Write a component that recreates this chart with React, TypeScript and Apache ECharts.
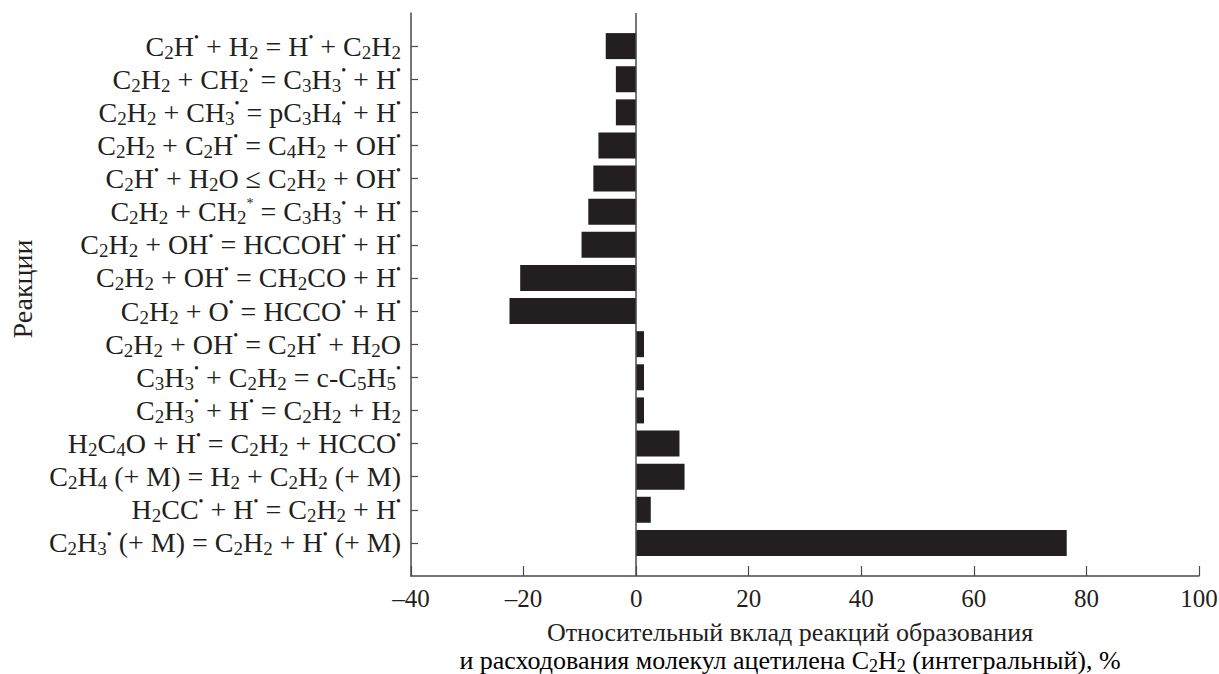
import React, { useEffect, useRef } from "react";
import * as echarts from "echarts";

// Reactions, top to bottom. Markup: _x = subscript char, ^x = superscript char
const reactions: string[] = [
  "C_2H^• + H_2 = H^• + C_2H_2",
  "C_2H_2 + CH_2^• = C_3H_3^• + H^•",
  "C_2H_2 + CH_3^• = pC_3H_4^• + H^•",
  "C_2H_2 + C_2H^• = C_4H_2 + OH^•",
  "C_2H^• + H_2O ≤ C_2H_2 + OH^•",
  "C_2H_2 + CH_2^* = C_3H_3^• + H^•",
  "C_2H_2 + OH^• = HCCOH^• + H^•",
  "C_2H_2 + OH^• = CH_2CO + H^•",
  "C_2H_2 + O^• = HCCO^• + H^•",
  "C_2H_2 + OH^• = C_2H^• + H_2O",
  "C_3H_3^• + C_2H_2 = c-C_5H_5^•",
  "C_2H_3^• + H^• = C_2H_2 + H_2",
  "H_2C_4O + H^• = C_2H_2 + HCCO^•",
  "C_2H_4 (+ M) = H_2 + C_2H_2 (+ M)",
  "H_2CC^• + H^• = C_2H_2 + H^•",
  "C_2H_3^• (+ M) = C_2H_2 + H^• (+ M)",
];

const contributions: number[] = [
  -5.4, -3.6, -3.6, -6.7, -7.6, -8.5, -9.7, -20.6, -22.5, 1.4, 1.4, 1.4, 7.7, 8.6, 2.6, 76.5,
];

const xTicks = { min: -40, max: 100, interval: 20 };
const yAxisTitle = "Реакции";
const xTitleLine1 = "Относительный вклад реакций образования";
const xTitleLine2 = "и расходования молекул ацетилена C_2H_2 (интегральный), %";

const INK = "#231f20";
const AXIS = "#4a4a4a";
const FONT = "Liberation Serif, Times New Roman, serif";

function toRich(markup: string): string {
  let out = "";
  let plain = "";
  const flush = () => {
    if (plain) {
      out += `{n|${plain}}`;
      plain = "";
    }
  };
  for (let i = 0; i < markup.length; i++) {
    const c = markup[i];
    if (c === "_" && i + 1 < markup.length) {
      flush();
      out += `{s|${markup[i + 1]}}`;
      i += 1;
    } else if (c === "^" && i + 1 < markup.length) {
      flush();
      out += `{u|${markup[i + 1]}}`;
      i += 1;
    } else {
      plain += c;
    }
  }
  flush();
  return out;
}

function richStyles(size: number) {
  const lh = Math.round(size * 1.1);
  const sub = Math.round(size * 0.68);
  const sup = Math.round(size * 0.5);
  return {
    n: { fontSize: size, lineHeight: lh, fontFamily: FONT, color: INK, align: "left", verticalAlign: "middle" },
    s: { fontSize: sub, lineHeight: Math.round(size * 0.5), fontFamily: FONT, color: INK, align: "left", verticalAlign: "bottom" },
    u: { fontSize: sup, lineHeight: sup, fontFamily: FONT, color: INK, align: "left", verticalAlign: "top" },
  };
}

export default function App() {
  const ref = useRef<HTMLDivElement>(null);

  useEffect(() => {
    document.body.style.margin = "0";
    if (!ref.current) return;
    const chart = echarts.init(ref.current, null, { renderer: "svg" });

    const categories = ["", ...reactions, ""];
    const values: (number | null)[] = [null, ...contributions, null];

    chart.setOption({
      animation: false,
      backgroundColor: "#ffffff",
      textStyle: { fontFamily: FONT },
      grid: { left: 411, right: 20, top: 13, bottom: 98, containLabel: false, outerBoundsMode: "none" },
      xAxis: {
        type: "value",
        min: xTicks.min,
        max: xTicks.max,
        interval: xTicks.interval,
        splitLine: { show: false },
        axisLine: { show: true, onZero: false, lineStyle: { color: AXIS, width: 1.5 } },
        axisTick: { show: true, inside: true, length: 10, lineStyle: { color: AXIS, width: 1.2 } },
        axisLabel: {
          fontFamily: FONT,
          fontSize: 25,
          color: INK,
          margin: 10,
          formatter: (v: number) => (v < 0 ? "–" + Math.abs(v) : String(v)),
        },
      },
      yAxis: {
        type: "category",
        inverse: true,
        boundaryGap: false,
        data: categories,
        axisLine: { show: true, onZero: false, lineStyle: { color: AXIS, width: 1.5 } },
        axisTick: {
          show: true,
          inside: true,
          length: 7,
          interval: (i: number) => i > 0 && i < categories.length - 1,
          lineStyle: { color: AXIS, width: 1.2 },
        },
        axisLabel: {
          interval: 0,
          margin: 10,
          fontFamily: FONT,
          formatter: (v: string) => (v ? toRich(v) : ""),
          rich: richStyles(28),
        },
      },
      series: [
        {
          type: "bar",
          data: values,
          barWidth: 26,
          itemStyle: { color: INK },
          markLine: {
            silent: true,
            symbol: "none",
            label: { show: false },
            lineStyle: { color: AXIS, width: 1.5, type: "solid" },
            data: [{ xAxis: 0 }],
          },
        },
      ],
      graphic: [
        {
          type: "text",
          x: 22,
          y: 289,
          rotation: Math.PI / 2,
          style: {
            text: yAxisTitle,
            fontFamily: FONT,
            fontSize: 28,
            fill: INK,
            align: "center",
            verticalAlign: "middle",
          },
        },
        {
          type: "text",
          x: 790,
          y: 632,
          style: {
            text: xTitleLine1,
            fontFamily: FONT,
            fontSize: 26,
            fill: INK,
            align: "center",
            verticalAlign: "middle",
          },
        },
        {
          type: "text",
          x: 790,
          y: 660,
          style: {
            text: toRich(xTitleLine2),
            rich: richStyles(26),
            fontFamily: FONT,
            align: "center",
            verticalAlign: "middle",
          },
        },
      ],
    });

    return () => chart.dispose();
  }, []);

  return <div ref={ref} style={{ width: 1219, height: 674 }} />;
}
